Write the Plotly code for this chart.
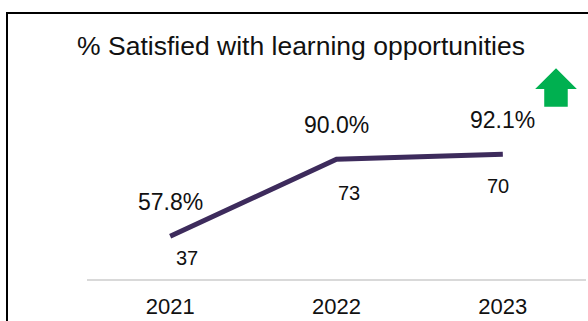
import plotly.graph_objects as go

# Survey results
years = ["2021", "2022", "2023"]
pct_satisfied = [57.8, 90.0, 92.1]
respondents = [37, 73, 70]
title_text = "% Satisfied with learning opportunities"

# label offsets (pixels) for respondent counts
count_shift_x = [17, 12, -5]
count_shift_y = [-22, -34, -32]

W, H = 588, 321
ML, MR, MT, MB = 87, 2, 100, 40
LINE_COLOR = "#3d2b5c"
Y_MIN, Y_MAX = 40, 114.7
FONT = "Liberation Sans, Arial"

fig = go.Figure()
fig.add_trace(go.Scatter(
    x=years, y=pct_satisfied, mode="lines",
    line=dict(color=LINE_COLOR, width=5),
    hoverinfo="skip", showlegend=False,
))

annotations = []
for i, (v, n) in enumerate(zip(pct_satisfied, respondents)):
    # category axes place annotations by category index
    annotations.append(dict(
        x=i, y=v, xref="x", yref="y", text=f"{v:.1f}%", showarrow=False,
        yshift=34, font=dict(family=FONT, size=23, color="#111111"),
    ))
    annotations.append(dict(
        x=i, y=v, xref="x", yref="y", text=str(n), showarrow=False,
        xshift=count_shift_x[i], yshift=count_shift_y[i],
        font=dict(family=FONT, size=20, color="#111111"),
    ))

pw, ph = W - ML - MR, H - MT - MB


def px_x(p):
    return (p - ML) / pw


def px_y(p):
    return (H - MB - p) / ph


# green "up" arrow
arrow_pts = [(556, 69), (575, 88), (567, 88), (567, 106), (545, 106), (545, 88), (537, 88)]
arrow_path = "M " + " L ".join(f"{px_x(x):.4f},{px_y(y):.4f}" for x, y in arrow_pts) + " Z"

shapes = [
    # frame around the panel
    dict(type="rect", xref="paper", yref="paper",
         x0=px_x(7), y0=px_y(340), x1=px_x(600), y1=px_y(12),
         line=dict(color="#000000", width=2), fillcolor="rgba(0,0,0,0)", layer="below"),
    dict(type="path", xref="paper", yref="paper", path=arrow_path,
         fillcolor="#00b050", line=dict(color="#00b050", width=1.5)),
]

fig.update_layout(
    width=W, height=H,
    margin=dict(l=ML, r=MR, t=MT, b=MB),
    paper_bgcolor="white", plot_bgcolor="white",
    title=dict(text=title_text, xref="container", yref="container",
               x=301 / W, y=1 - 46 / H, xanchor="center", yanchor="middle",
               font=dict(family=FONT, size=26.5, color="#111111")),
    xaxis=dict(type="category", range=[-0.5, 2.5], showgrid=False,
               showline=True, linecolor="#d9d9d9", linewidth=2,
               ticks="", ticklabelstandoff=7,
               tickfont=dict(family=FONT, size=22, color="#111111")),
    yaxis=dict(range=[Y_MIN, Y_MAX], visible=False, showgrid=False, zeroline=False),
    annotations=annotations,
    shapes=shapes,
)

fig.write_html("out.html")
